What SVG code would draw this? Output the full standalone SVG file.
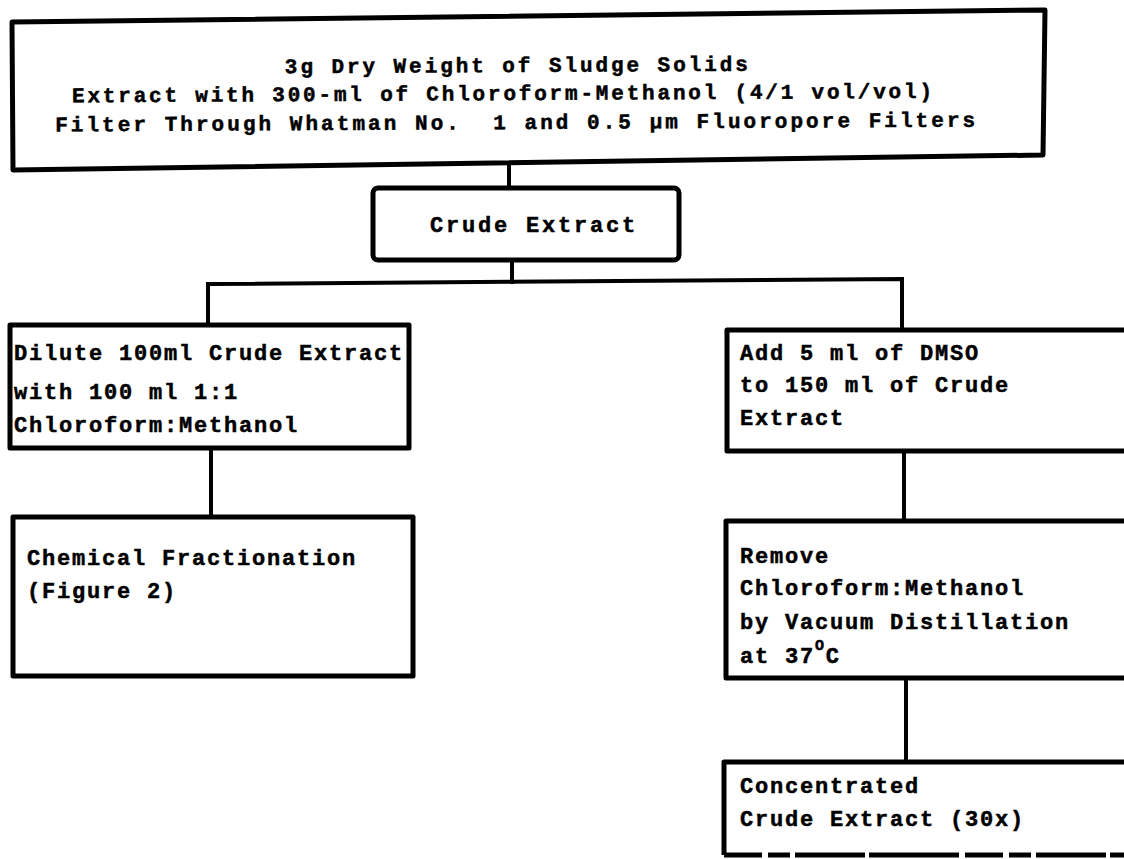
<svg xmlns="http://www.w3.org/2000/svg" width="1124" height="859" viewBox="0 0 1124 859">
<style>
.box{fill:#fff;stroke:#000;stroke-width:5;stroke-linejoin:round}
.edge{fill:none;stroke:#000;stroke-width:5;stroke-linejoin:round}
.con{fill:none;stroke:#000;stroke-width:4;stroke-linecap:square}
text{font-family:"Liberation Mono","Courier New",monospace;font-weight:bold;font-size:22px;fill:#000;stroke:#000;stroke-width:0.5;letter-spacing:1.8px}
.top{letter-spacing:0;font-size:21px}
</style>
<rect width="1124" height="859" fill="#fff"/>
<g id="connectors">
<line class="con" x1="509" y1="163" x2="509" y2="188"/>
<line class="con" x1="512" y1="260" x2="512" y2="282"/>
<polyline class="con" points="208,325 208,284 902,279 902,330"/>
<line class="con" x1="211" y1="448" x2="211" y2="517"/>
<line class="con" x1="904" y1="451" x2="904" y2="521"/>
<line class="con" x1="906" y1="678" x2="906" y2="762"/>
</g>
<g id="n-sludge">
<path class="box" d="M12,22 L1045,10 L1043,155 L13,170 Z"/>
<g transform="rotate(-0.3 520 98)">
<text class="top" x="285" y="72" textLength="463" lengthAdjust="spacing">3g Dry Weight of Sludge Solids</text>
<text class="top" x="72" y="100" textLength="860" lengthAdjust="spacing">Extract with 300-ml of Chloroform-Methanol (4/1 vol/vol)</text>
<text class="top" x="55" y="129" textLength="920" lengthAdjust="spacing">Filter Through Whatman No.&#160; 1 and 0.5 µm Fluoropore Filters</text>
</g>
</g>
<g id="n-crude">
<rect class="box" x="373" y="188" width="306" height="72" rx="5"/>
<text x="430" y="232" textLength="207" lengthAdjust="spacing">Crude Extract</text>
</g>
<g id="n-dilute">
<rect class="box" x="10" y="325" width="399" height="123"/>
<text x="14" y="360">Dilute 100ml Crude Extract</text>
<text x="14" y="399">with 100 ml 1:1</text>
<text x="14" y="432">Chloroform:Methanol</text>
</g>
<g id="n-dmso">
<rect class="box" x="727" y="330" width="410" height="121"/>
<text x="740" y="360">Add 5 ml of DMSO</text>
<text x="740" y="392">to 150 ml of Crude</text>
<text x="740" y="425">Extract</text>
</g>
<g id="n-fraction">
<rect class="box" x="13" y="517" width="400" height="159"/>
<text x="27" y="565">Chemical Fractionation</text>
<text x="27" y="598">(Figure 2)</text>
</g>
<g id="n-remove">
<rect class="box" x="726" y="521" width="410" height="157"/>
<text x="740" y="563">Remove</text>
<text x="740" y="595">Chloroform:Methanol</text>
<text x="740" y="629">by Vacuum Distillation</text>
<text x="740" y="663">at 37<tspan font-size="15" dy="-13">O</tspan><tspan dy="13">C</tspan></text>
</g>
<g id="n-conc">
<path class="edge" d="M1136,762 L724,762 L724,855"/>
<line class="edge" x1="724" y1="855" x2="1136" y2="855" stroke-dasharray="38 6 22 5 70 4 90 6"/>
<text x="740" y="793">Concentrated</text>
<text x="740" y="826">Crude Extract (30x)</text>
</g>
</svg>
